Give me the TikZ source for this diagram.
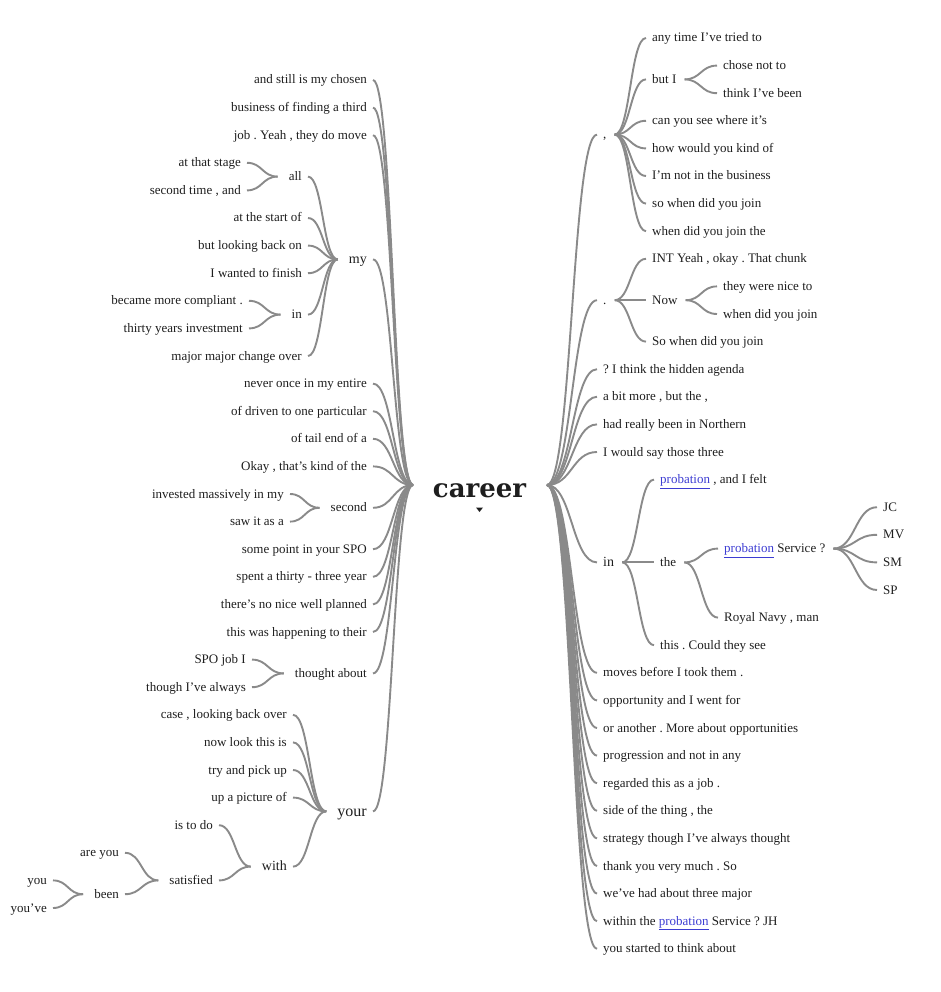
\documentclass[tikz,border=0pt]{standalone}
\usepackage{fontspec}
\setmainfont{Liberation Serif}
\newfontfamily\careerfont{DejaVu Serif}
\usetikzlibrary{calc}
\definecolor{txt}{HTML}{1E1E1E}
\definecolor{lnk}{HTML}{8A8A8A}
\definecolor{plk}{HTML}{3C3CD2}
\newcommand\plink[1]{\textcolor{plk}{\underline{#1}}}
\frenchspacing
\tikzset{
  w/.style={inner xsep=6pt, inner ysep=0pt, text height=8pt, text depth=0pt,
            font=\fontsize{13}{13}\selectfont\frenchspacing, text=txt},
  lw/.style={w, anchor=east},
  rw/.style={w, anchor=west},
  big/.style={font=\fontsize{16}{16}\selectfont, text height=9.5pt},
  mid/.style={font=\fontsize{14}{14}\selectfont, text height=8.5pt},
  link/.style={draw=lnk, line width=1.9pt},
  wt/.style={to path={let \p1=(\tikztostart), \p2=(\tikztotarget) in
      .. controls ({0.5*\x1+0.5*\x2},\y1) and ({0.5*\x1+0.5*\x2},\y2) .. (\tikztotarget)}}
}
\newcommand\lk[2]{\draw[link] (#1.east) to[wt] ([xshift=-5pt]#2.west);}
\newcommand\rk[2]{\draw[link] ([xshift=2pt]#1.east) to[wt] (#2.west);}
\begin{document}
\begin{tikzpicture}[x=1pt,y=-1pt]
\useasboundingbox (0,0) rectangle (940,992);
% root
\node[inner sep=0pt, anchor=base, text=txt, font=\careerfont\bfseries\fontsize{26}{26}\selectfont] (career) at (479.5,497) {career};
\coordinate (cjl) at (413,485);
\coordinate (cjr) at (547,485);
\fill[txt] (476,507.5) -- (483,507.5) -- (479.5,512) -- cycle;

% ---------- left side, level 1 ----------
\node[lw] (a1) at (373,80) {and still is my chosen};
\node[lw] (a2) at (373,107.6) {business of finding a third};
\node[lw] (a3) at (373,135.2) {job . Yeah , they do move};
\node[lw,mid] (my) at (373,259.4) {my};
\node[lw] (a5) at (373,383.6) {never once in my entire};
\node[lw] (a6) at (373,411.2) {of driven to one particular};
\node[lw] (a7) at (373,438.8) {of tail end of a};
\node[lw] (a8) at (373,466.4) {Okay , that’s kind of the};
\node[lw] (sec) at (373,507.8) {second};
\node[lw] (a10) at (373,549.2) {some point in your SPO};
\node[lw] (a11) at (373,576.8) {spent a thirty - three year};
\node[lw] (a12) at (373,604.4) {there’s no nice well planned};
\node[lw] (a13) at (373,632) {this was happening to their};
\node[lw] (tho) at (373,673.4) {thought about};
\node[lw,big] (your) at (373,811.4) {your};
% my
\node[lw] (all) at (308,176.6) {all};
\node[lw] (b2) at (308,218) {at the start of};
\node[lw] (b3) at (308,245.6) {but looking back on};
\node[lw] (b4) at (308,273.2) {I wanted to finish};
\node[lw] (inL) at (308,314.6) {in};
\node[lw] (b6) at (308,356) {major major change over};
\node[lw] (c1) at (247,162.8) {at that stage};
\node[lw] (c2) at (247,190.4) {second time , and};
\node[lw] (c3) at (249,300.8) {became more compliant .};
\node[lw] (c4) at (249,328.4) {thirty years investment};
% second
\node[lw] (d1) at (290,494) {invested massively in my};
\node[lw] (d2) at (290,521.6) {saw it as a};
% thought about
\node[lw] (e1) at (252,659.6) {SPO job I};
\node[lw] (e2) at (252,687.2) {though I’ve always};
% your
\node[lw] (f1) at (293,714.8) {case , looking back over};
\node[lw] (f2) at (293,742.4) {now look this is};
\node[lw] (f3) at (293,770) {try and pick up};
\node[lw] (f4) at (293,797.6) {up a picture of};
\node[lw,mid] (with) at (293,866.6) {with};
\node[lw] (g1) at (219,825.2) {is to do};
\node[lw] (sat) at (219,880.4) {satisfied};
\node[lw] (h1) at (125,852.8) {are you};
\node[lw] (been) at (125,894.2) {been};
\node[lw] (i1) at (53,880.4) {you};
\node[lw] (i2) at (53,908) {you’ve};

% ---------- right side, level 1 ----------
\node[rw] (comma) at (597,134.6) {,};
\node[rw] (dot) at (597,300.2) {.};
\node[rw] (r3) at (597,369.2) {? I think the hidden agenda};
\node[rw] (r4) at (597,396.8) {a bit more , but the ,};
\node[rw] (r5) at (597,424.4) {had really been in Northern};
\node[rw] (r6) at (597,452) {I would say those three};
\node[rw,mid] (inR) at (597,562.4) {in};
\node[rw] (r8) at (597,672.8) {moves before I took them .};
\node[rw] (r9) at (597,700.4) {opportunity and I went for};
\node[rw] (r10) at (597,728) {or another . More about opportunities};
\node[rw] (r11) at (597,755.6) {progression and not in any};
\node[rw] (r12) at (597,783.2) {regarded this as a job .};
\node[rw] (r13) at (597,810.8) {side of the thing , the};
\node[rw] (r14) at (597,838.4) {strategy though I’ve always thought};
\node[rw] (r15) at (597,866) {thank you very much . So};
\node[rw] (r16) at (597,893.6) {we’ve had about three major};
\node[rw] (r17) at (597,921.2) {within the \plink{probation} Service ? JH};
\node[rw] (r18) at (597,948.8) {you started to think about};
% comma
\node[rw] (s1) at (646,38) {any time I’ve tried to};
\node[rw] (butI) at (646,79.4) {but I};
\node[rw] (s3) at (646,120.8) {can you see where it’s};
\node[rw] (s4) at (646,148.4) {how would you kind of};
\node[rw] (s5) at (646,176) {I’m not in the business};
\node[rw] (s6) at (646,203.6) {so when did you join};
\node[rw] (s7) at (646,231.2) {when did you join the};
\node[rw] (t1) at (717,65.6) {chose not to};
\node[rw] (t2) at (717,93.2) {think I’ve been};
% dot
\node[rw] (u1) at (646,258.8) {INT Yeah , okay . That chunk};
\node[rw] (now) at (646,300.2) {Now};
\node[rw] (u3) at (646,341.6) {So when did you join};
\node[rw] (v1) at (717,286.4) {they were nice to};
\node[rw] (v2) at (717,314) {when did you join};
% in
\node[rw] (w1) at (654,479.6) {\plink{probation} , and I felt};
\node[rw] (the) at (654,562.4) {the};
\node[rw] (w3) at (654,645.2) {this . Could they see};
\node[rw] (ps) at (718,548.6) {\plink{probation} Service ?};
\node[rw] (x2) at (718,617.6) {Royal Navy , man};
\node[rw] (jc) at (877,507.2) {JC};
\node[rw] (mv) at (877,534.8) {MV};
\node[rw] (sm) at (877,562.4) {SM};
\node[rw] (sp) at (877,590) {SP};

% ---------- connectors ----------
\foreach \k in {a1,a2,a3,my,a5,a6,a7,a8,sec,a10,a11,a12,a13,tho,your}
  {\draw[link] (\k.east) to[wt] (cjl);}
\foreach \k in {all,b2,b3,b4,inL,b6} {\lk{\k}{my}}
\foreach \k in {c1,c2} {\lk{\k}{all}}
\foreach \k in {c3,c4} {\lk{\k}{inL}}
\foreach \k in {d1,d2} {\lk{\k}{sec}}
\foreach \k in {e1,e2} {\lk{\k}{tho}}
\foreach \k in {f1,f2,f3,f4,with} {\lk{\k}{your}}
\foreach \k in {g1,sat} {\lk{\k}{with}}
\foreach \k in {h1,been} {\lk{\k}{sat}}
\foreach \k in {i1,i2} {\lk{\k}{been}}

\foreach \k in {comma,dot,r3,r4,r5,r6,inR,r8,r9,r10,r11,r12,r13,r14,r15,r16,r17,r18}
  {\draw[link] (cjr) to[wt] (\k.west);}
\foreach \k in {s1,butI,s3,s4,s5,s6,s7} {\rk{comma}{\k}}
\foreach \k in {t1,t2} {\rk{butI}{\k}}
\foreach \k in {u1,now,u3} {\rk{dot}{\k}}
\foreach \k in {v1,v2} {\rk{now}{\k}}
\foreach \k in {w1,the,w3} {\rk{inR}{\k}}
\foreach \k in {ps,x2} {\rk{the}{\k}}
\foreach \k in {jc,mv,sm,sp} {\rk{ps}{\k}}
\end{tikzpicture}
\end{document}
